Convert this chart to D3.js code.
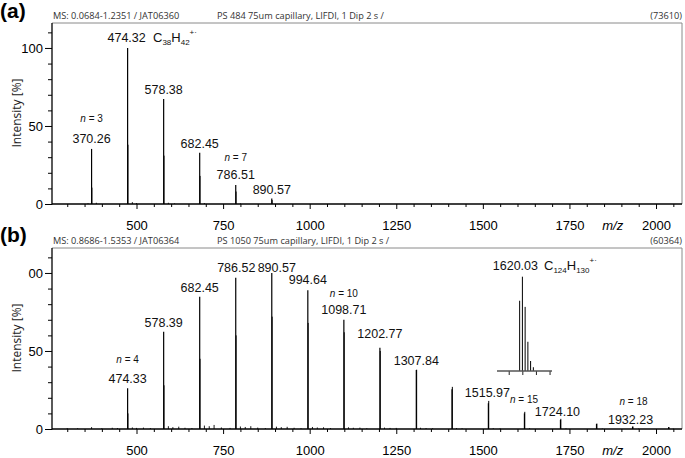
<!DOCTYPE html>
<html><head><meta charset="utf-8">
<script src="https://cdn.jsdelivr.net/npm/d3@7/dist/d3.min.js"></script>
<style>body{margin:0;background:#fff}svg{display:block}</style>
</head><body><svg id="c" width="685" height="458"></svg>
<script>
// ---------- DATA ----------
const xDomain = [256, 2075];
const xMajorTicks = [500, 750, 1000, 1250, 1500, 1750, 2000];
const xMinorTicks = [300,350,400,450,550,600,650,700,800,850,900,950,1050,1100,1150,1200,1300,1350,1400,1450,1550,1600,1650,1700,1800,1850,1900,1950,2050];
const yMajorTicks = [0, 50, 100];
const yMinorTicks = [10,20,30,40,60,70,80,90,110];
const yTickLabelsA = ["0", "50", "100"];
const yTickLabelsB = ["0", "50", "00"];

// panel (a)
const peakMzA  = [370.26, 474.32, 578.38, 682.45, 786.51, 890.57];
const peakIntA = [35.3, 100, 67.3, 32.9, 12.2, 3.6];
const isoIntA  = [10.5, 38, 31, 18, 8, 2.5];
const noiseMzA  = [360, 384, 488, 500, 592, 610, 696, 800];
const noiseIntA = [0.5, 0.8, 1.2, 0.6, 0.8, 0.4, 0.6, 0.4];

// panel (b)
const peakMzB  = [474.33, 578.39, 682.45, 786.52, 890.57, 994.64, 1098.71, 1202.77, 1307.84, 1410.90, 1515.97, 1620.03, 1724.10, 1828.16, 1932.23, 2036.29];
const peakIntB = [26.1, 62.4, 84.8, 97, 100, 89, 70, 52, 37.8, 25.4, 16.5, 10, 5.8, 3.2, 1.5, 1.2];
const isoIntB  = [10, 28, 45, 60, 72, 68, 62, 50, 38, 27, 18, 11, 6.5, 3.5, 1.6, 1.2];
const noiseMzB  = [300,330,370.3,400,430,445,488,500,520,540,592,605,622,640,660,696,710,724,745,770,800,814,830,850,872,904,918,935,955,975,1008,1022,1040,1060,1112,1126,1145,1165,1216,1232,1250,1320,1336,1355,1424,1440,1530,1550,1635,1740,1845,1950,2050];
const noiseIntB = [0.6,0.5,1.2,0.5,0.8,0.6,1.0,0.7,0.9,0.6,1.8,1.2,1.5,0.8,0.6,2.2,1.8,2.6,1.0,0.7,1.6,1.3,1.8,0.9,0.6,1.5,1.2,1.4,0.8,0.5,1.3,1.0,1.1,0.6,1.1,0.8,0.9,0.5,0.9,0.7,0.7,0.8,0.6,0.5,0.6,0.5,0.5,0.4,0.5,0.4,0.3,0.3,0.3];

// inset isotope pattern for 1620.03
const insetDomain = [1610.7, 1630.9];
const insetTicks = [1615, 1620, 1625, 1630];
const insetMz  = [1619.02, 1620.03, 1621.03, 1622.04, 1623.04, 1624.05];
const insetInt = [74.5, 100, 68, 31, 10.6, 4];

// ---------- DRAW ----------
const svg = d3.select("#c");
const numFont = "'Liberation Sans', Arial, sans-serif";
const hdrFont = "'Open Sans', 'Noto Sans', sans-serif";
const L = 52, R = 682;
const LBL = 12.5;

function panel(cfg) {
  const g = svg.append("g");
  const x = d3.scaleLinear().domain(xDomain).range([L, R]);
  const y = d3.scaleLinear().domain([0, 116]).range([cfg.base, cfg.top]);

  g.append("path").attr("d", `M${L},${cfg.top}H${R}V${cfg.base}`)
    .attr("fill", "none").attr("stroke", "#8a8a8a").attr("stroke-width", 1);

  g.append("text").attr("x", L + 1).attr("y", cfg.top - 4).attr("font-family", hdrFont)
    .attr("font-size", 9.2).attr("fill", "#333").text(cfg.h1);
  g.append("text").attr("x", 217).attr("y", cfg.top - 4).attr("font-family", hdrFont)
    .attr("font-size", 9.2).attr("fill", "#333").text(cfg.h2);
  g.append("text").attr("x", R).attr("y", cfg.top - 4).attr("text-anchor", "end").attr("font-family", hdrFont)
    .attr("font-size", 9.2).attr("fill", "#333").text(cfg.h3);

  g.append("text").attr("x", 0).attr("y", cfg.letterY).attr("font-family", numFont)
    .attr("font-weight", "bold").attr("font-size", 21).text(cfg.letter);

  const ya = d3.axisLeft(y).tickValues(yMajorTicks).tickSize(7).tickPadding(2)
    .tickFormat((d, i) => cfg.yLabels[i]);
  const yg = g.append("g").attr("transform", `translate(${L},0)`).call(ya);
  yg.select(".domain").remove();
  yg.selectAll("text").attr("font-family", numFont).attr("font-size", 13).attr("fill", "#000");
  yg.selectAll("line").attr("stroke", "#000");
  const ym = d3.axisLeft(y).tickValues(yMinorTicks).tickSize(4).tickFormat("");
  const ymg = g.append("g").attr("transform", `translate(${L},0)`).call(ym);
  ymg.select(".domain").remove();
  ymg.selectAll("line").attr("stroke", "#000");
  g.append("line").attr("x1", L).attr("x2", L).attr("y1", cfg.top).attr("y2", cfg.base + 0.5)
    .attr("stroke", "#000").attr("stroke-width", 1.3);

  g.append("text").attr("transform", `translate(21,${cfg.titleY}) rotate(-90)`)
    .attr("text-anchor", "middle").attr("font-family", hdrFont).attr("font-size", 12)
    .attr("fill", "#222").text("Intensity [%]");

  const xa = d3.axisBottom(x).tickValues(xMajorTicks).tickSize(5).tickPadding(12)
    .tickFormat(d3.format("d"));
  const xg = g.append("g").attr("transform", `translate(0,${cfg.base})`).call(xa);
  xg.select(".domain").remove();
  xg.selectAll("text").attr("font-family", numFont).attr("font-size", 13).attr("fill", "#000");
  xg.selectAll("line").attr("stroke", "#000");
  const xm = d3.axisBottom(x).tickValues(xMinorTicks).tickSize(3).tickFormat("");
  const xmg = g.append("g").attr("transform", `translate(0,${cfg.base})`).call(xm);
  xmg.select(".domain").remove();
  xmg.selectAll("line").attr("stroke", "#000");

  g.append("text").attr("x", x(1875)).attr("y", cfg.base + 26).attr("text-anchor", "middle")
    .attr("font-family", numFont).attr("font-size", 13).attr("font-style", "italic").text("m/z");

  g.selectAll(".n").data(cfg.noiseMz).enter().append("line")
    .attr("x1", d => x(d)).attr("x2", d => x(d))
    .attr("y1", y(0)).attr("y2", (d, i) => y(cfg.noiseInt[i]))
    .attr("stroke", "#000").attr("stroke-width", 0.9);
  g.selectAll(".iso").data(cfg.mz).enter().append("line")
    .attr("x1", d => x(d + 1)).attr("x2", d => x(d + 1))
    .attr("y1", y(0)).attr("y2", (d, i) => y(cfg.iso[i]))
    .attr("stroke", "#000").attr("stroke-width", 1);
  g.selectAll(".p").data(cfg.mz).enter().append("line")
    .attr("x1", d => x(d)).attr("x2", d => x(d))
    .attr("y1", y(0)).attr("y2", (d, i) => y(cfg.int[i]))
    .attr("stroke", "#000").attr("stroke-width", 1.2);

  g.append("line").attr("x1", L).attr("x2", R).attr("y1", cfg.base).attr("y2", cfg.base)
    .attr("stroke", "#000").attr("stroke-width", 1.4);

  return {g, x, y};
}

function label(g, txt, cx, by, anchor) {
  return g.append("text").attr("x", cx).attr("y", by).attr("text-anchor", anchor || "middle")
    .attr("font-family", numFont).attr("font-size", LBL).attr("fill", "#111").text(txt);
}
function nlabel(g, n, cx, by) {
  const t = g.append("text").attr("x", cx).attr("y", by).attr("text-anchor", "middle")
    .attr("font-family", numFont).attr("font-size", 10).attr("fill", "#111");
  t.append("tspan").attr("font-style", "italic").text("n");
  t.append("tspan").text(" = " + n);
}
function formula(g, c, h, x0, by) {
  const t = g.append("text").attr("x", x0).attr("y", by).attr("font-family", numFont)
    .attr("font-size", 13).attr("fill", "#111");
  t.append("tspan").text("C");
  t.append("tspan").attr("font-size", 8).attr("dy", 3).text(c);
  t.append("tspan").attr("dy", -3).text("H");
  t.append("tspan").attr("font-size", 8).attr("dy", 3).text(h);
  t.append("tspan").attr("font-size", 8).attr("dy", -10).text("+·");
}

// Panel (a)
const A = panel({top: 23, base: 204, letter: "(a)", letterY: 18, yLabels: yTickLabelsA, titleY: 113,
  h1: "MS: 0.0684-1.2351 / JAT06360", h2: "PS 484 75um capillary, LIFDI, 1 Dip 2 s /", h3: "(73610)",
  mz: peakMzA, int: peakIntA, iso: isoIntA, noiseMz: noiseMzA, noiseInt: noiseIntA});
nlabel(A.g, 3, A.x(peakMzA[0]), 122);
label(A.g, "370.26", A.x(peakMzA[0]), 143);
label(A.g, "474.32", A.x(peakMzA[1]) - 1, 42);
formula(A.g, "38", "42", 153, 42);
label(A.g, "578.38", A.x(peakMzA[2]), 94);
label(A.g, "682.45", A.x(peakMzA[3]), 148);
nlabel(A.g, 7, A.x(peakMzA[4]), 161);
label(A.g, "786.51", A.x(peakMzA[4]), 179);
label(A.g, "890.57", A.x(peakMzA[5]), 194);

// Panel (b)
const B = panel({top: 248, base: 429, letter: "(b)", letterY: 242, yLabels: yTickLabelsB, titleY: 338,
  h1: "MS: 0.8686-1.5353 / JAT06364", h2: "PS 1050 75um capillary, LIFDI, 1 Dip 2 s /", h3: "(60364)",
  mz: peakMzB, int: peakIntB, iso: isoIntB, noiseMz: noiseMzB, noiseInt: noiseIntB});
nlabel(B.g, 4, B.x(peakMzB[0]), 363);
label(B.g, "474.33", B.x(peakMzB[0]), 383);
label(B.g, "578.39", B.x(peakMzB[1]), 327);
label(B.g, "682.45", B.x(peakMzB[2]), 292);
label(B.g, "786.52", B.x(peakMzB[3]) + 0.5, 272);
label(B.g, "890.57", B.x(peakMzB[4]) + 5, 272);
label(B.g, "994.64", B.x(peakMzB[5]), 284);
nlabel(B.g, 10, B.x(peakMzB[6]), 297);
label(B.g, "1098.71", B.x(peakMzB[6]), 314);
label(B.g, "1202.77", B.x(peakMzB[7]), 338);
label(B.g, "1307.84", B.x(peakMzB[8]), 365);
label(B.g, "1515.97", B.x(peakMzB[10]) - 1, 397);
nlabel(B.g, 15, 524, 403);
label(B.g, "1724.10", B.x(peakMzB[12]) - 3, 416);
nlabel(B.g, 18, B.x(peakMzB[14]) + 1, 405);
label(B.g, "1932.23", B.x(peakMzB[14]) - 2, 424);
label(B.g, "1620.03", 538, 270, "end");
formula(B.g, "124", "130", 544, 270);

// Inset
const ix = d3.scaleLinear().domain(insetDomain).range([497, 552]);
const iy = d3.scaleLinear().domain([0, 100]).range([371, 276.7]);
const ig = B.g.append("g");
const ia = d3.axisBottom(ix).tickValues(insetTicks).tickSize(4).tickFormat("");
const iag = ig.append("g").attr("transform", "translate(0,371)").call(ia);
iag.select(".domain").remove();
iag.selectAll("line").attr("stroke", "#222");
ig.selectAll(".ip").data(insetMz).enter().append("line")
  .attr("x1", d => ix(d)).attr("x2", d => ix(d))
  .attr("y1", iy(0)).attr("y2", (d, i) => iy(insetInt[i]))
  .attr("stroke", "#000").attr("stroke-width", 1);
ig.append("line").attr("x1", 497).attr("x2", 552).attr("y1", 371).attr("y2", 371)
  .attr("stroke", "#555").attr("stroke-width", 1.4);
</script></body></html>
